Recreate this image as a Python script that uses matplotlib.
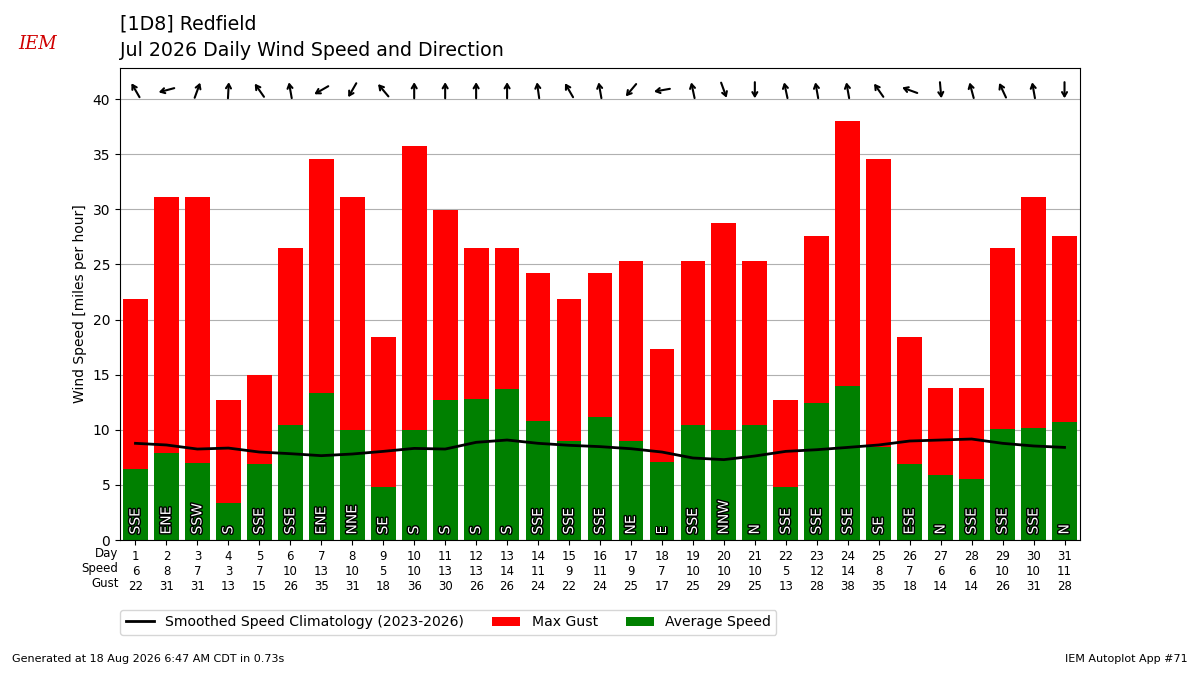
import math
import matplotlib
matplotlib.use("Agg")
import matplotlib.pyplot as plt
import matplotlib.patheffects as PathEffects
from matplotlib.transforms import ScaledTranslation

days = list(range(1, 32))
avg_speed = [6.4, 7.9, 7.0, 3.4, 6.9, 10.4, 13.3, 10.0, 4.8, 10.0, 12.7, 12.8,
             13.7, 10.8, 9.0, 11.2, 9.0, 7.1, 10.4, 10.0, 10.4, 4.8, 12.4, 14.0,
             8.4, 6.9, 5.9, 5.5, 10.1, 10.2, 10.7]
max_gust = [21.9, 31.1, 31.1, 12.7, 15.0, 26.5, 34.6, 31.1, 18.4, 35.7, 29.9,
            26.5, 26.5, 24.2, 21.9, 24.2, 25.3, 17.3, 25.3, 28.8, 25.3, 12.7,
            27.6, 38.0, 34.6, 18.4, 13.8, 13.8, 26.5, 31.1, 27.6]
climo = [8.77, 8.62, 8.25, 8.34, 7.98, 7.83, 7.65, 7.80, 8.04, 8.31, 8.25, 8.86,
         9.07, 8.77, 8.59, 8.47, 8.28, 7.98, 7.44, 7.29, 7.62, 8.04, 8.19, 8.40,
         8.62, 8.98, 9.07, 9.16, 8.77, 8.53, 8.40]
dir_text = ["SSE", "ENE", "SSW", "S", "SSE", "SSE", "ENE", "NNE", "SE", "S", "S",
            "S", "S", "SSE", "SSE", "SSE", "NE", "E", "SSE", "NNW", "N", "SSE",
            "SSE", "SSE", "SE", "ESE", "N", "SSE", "SSE", "SSE", "N"]
# vector mean direction (degrees the wind blows from)
dir_deg = [150, 75, 200, 183, 145, 170, 60, 30, 140, 180, 180, 180, 180, 172,
           150, 170, 40, 80, 168, 340, 0, 168, 170, 170, 145, 110, 355, 165,
           155, 170, 0]

fig = plt.figure(figsize=(12, 6.75), dpi=100)
ax = fig.add_axes([0.1, 0.2, 0.8, 0.699])

ax.bar(days, max_gust, width=0.8, color="r", label="Max Gust")
ax.bar(days, avg_speed, width=0.8, color="g", label="Average Speed")
ax.plot(days, climo, color="k", lw=2,
        label="Smoothed Speed Climatology (2023-2026)")

half = 5.8  # half arrow length in points
for d, txt, deg in zip(days, dir_text, dir_deg):
    t = ax.text(d, 0.5, txt, rotation=90, ha="center", va="bottom",
                color="white", fontsize=10)
    t.set_path_effects([PathEffects.withStroke(linewidth=2, foreground="k")])
    # arrow points where the wind blows to
    to = math.radians(deg + 180)
    hx = half * math.sin(to)
    hy = half * math.cos(to)
    trans = ax.transData + ScaledTranslation(hx / 72, hy / 72,
                                             fig.dpi_scale_trans)
    ax.annotate("", xy=(d, 40.8), xycoords=trans,
                xytext=(-2 * hx, -2 * hy), textcoords="offset points",
                arrowprops=dict(arrowstyle="->,head_length=0.3,head_width=0.18",
                                lw=1.5, color="k", shrinkA=0, shrinkB=0))

ax.set_xlim(0.5, 31.5)
ax.set_ylim(0, 42.8)
ax.set_yticks(range(0, 41, 5))
ax.grid(axis="y")
ax.set_axisbelow(True)
ax.set_ylabel("Wind Speed [miles per hour]")
ax.set_xticks(days)
ax.set_xticklabels(
    [f"{d}\n{round(s)}\n{round(g)}" for d, s, g in zip(days, avg_speed, max_gust)],
    fontsize=8.5)
ax.text(0.45, -0.0148, "Day\nSpeed\nGust", transform=ax.get_xaxis_transform(),
        ha="right", va="top", fontsize=8.5)

handles, labels = ax.get_legend_handles_labels()
fig.legend(handles, labels, ncol=3, loc="upper left",
           bbox_to_anchor=(0.0945, 0.107), fontsize=10.1)

fig.text(0.1, 0.978, "[1D8] Redfield\nJul 2026 Daily Wind Speed and Direction",
         ha="left", va="top", fontsize=13.7, linespacing=1.45)
fig.text(0.031, 0.935, "IEM", color="#d00000", fontsize=13, style="italic",
         family="DejaVu Serif", ha="center", va="center")
fig.text(0.01, 0.016, "Generated at 18 Aug 2026 6:47 AM CDT in 0.73s",
         fontsize=8, ha="left", va="bottom")
fig.text(0.99, 0.016, "IEM Autoplot App #71", fontsize=8, ha="right",
         va="bottom")

fig.savefig("out.png")
